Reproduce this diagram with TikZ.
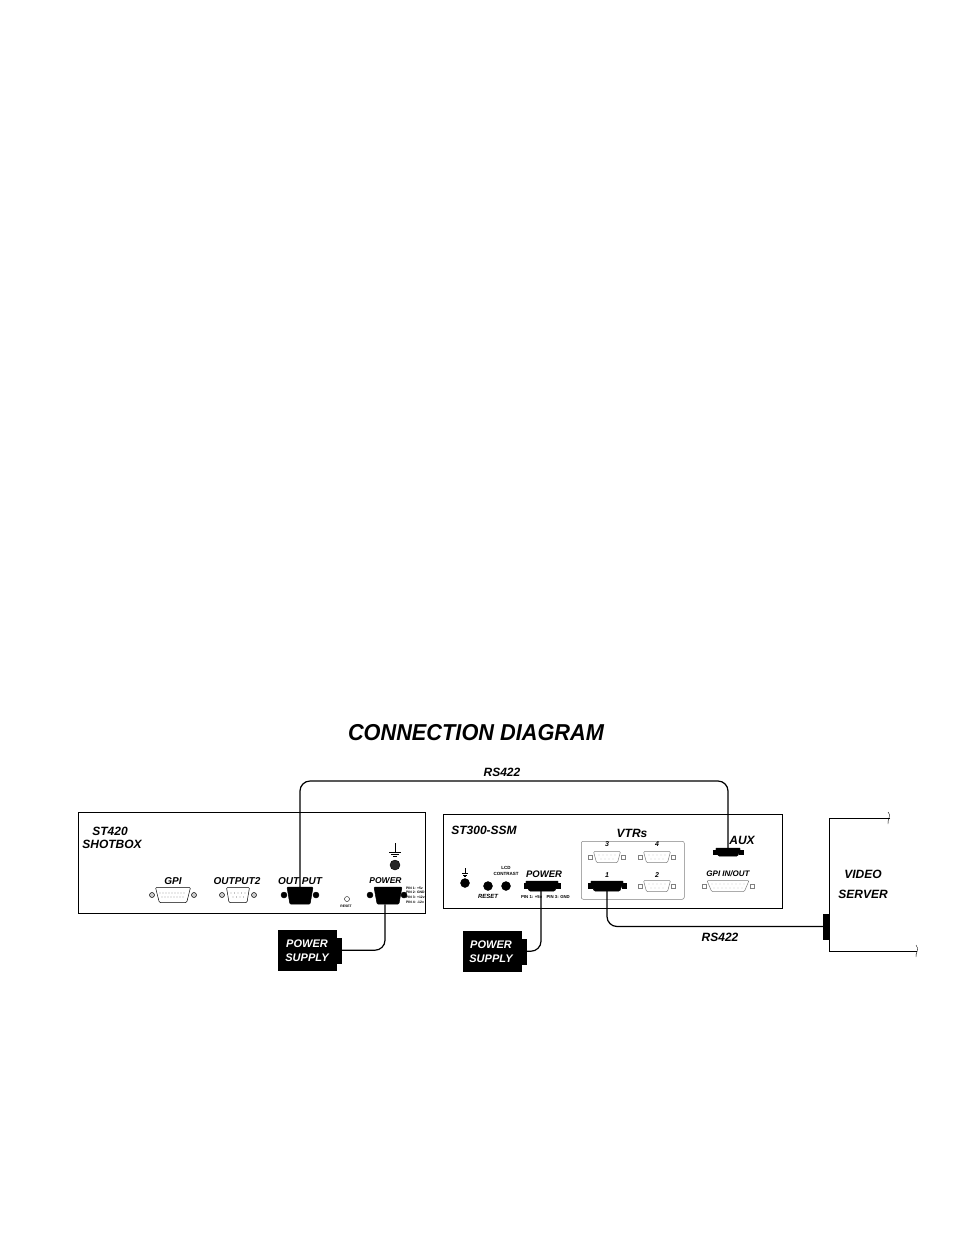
\documentclass[tikz,border=0pt]{standalone}
\usepackage{fontspec}
\setmainfont{Liberation Sans}
\usetikzlibrary{shapes.geometric}
\begin{document}
\begin{tikzpicture}[x=1pt, y=-1pt]

      \tikzset{
        panel/.style={draw, line width=1.2pt, inner sep=0pt, anchor=north west},
        lbl/.style={font=\bfseries\itshape\fontsize{12}{12}\selectfont, inner sep=0pt},
        tinylbl/.style={font=\bfseries\fontsize{3.4}{3.4}\selectfont, inner sep=0pt},
        smalllbl/.style={font=\bfseries\itshape\fontsize{10}{10}\selectfont, inner sep=0pt},
        numlbl/.style={font=\bfseries\itshape\fontsize{7}{7}\selectfont, inner sep=0pt},
        dsub/.style={draw, trapezium, trapezium angle=82, trapezium stretches=true, shape border rotate=180, inner sep=.5pt, line width=.5pt, rounded corners=1pt},
        dsubfill/.style={dsub, fill=black},
        dsubgray/.style={dsub, gray},
        screw/.style={draw, circle, inner sep=0pt, minimum size=5pt, line width=.5pt, fill=gray!40},
        knob/.style={draw, circle, inner sep=0pt, fill=black},
        ear/.style={draw, fill=black, inner sep=0pt, minimum width=4pt, minimum height=5pt},
        eargray/.style={draw, gray, line width=.4pt, inner sep=0pt, minimum size=4pt},
        psu/.style={draw, fill=black, inner sep=0pt, anchor=north west, minimum width=58pt, minimum height=40pt},
        tab/.style={draw, fill=black, inner sep=0pt, anchor=west, minimum width=5pt, minimum height=25pt},
        psulbl/.style={white, align=center, inner sep=0pt, font=\bfseries\itshape\fontsize{11}{14}\selectfont},
        cable/.style={line width=1.2pt, rounded corners=10pt}
      }
      \useasboundingbox (0,0) rectangle (954,1235);
      \fill[white] (0,0) rectangle (954,1235);

%% Title
      	\node[font=\bfseries\itshape\fontsize{23}{23}\selectfont, inner sep=0pt, xscale=.945, transform shape] (title) at (476,733) {CONNECTION DIAGRAM};
      	\node[lbl] (rstop) at (502,772) {RS422};
      	\node[lbl] (rsbot) at (720,937) {RS422};

%% Panels
      	\node[panel, minimum width=347pt, minimum height=101pt] (st420) at (78,812) {};
      	\node[panel, minimum width=339pt, minimum height=94pt] (st300) at (443,814) {};
      	\node[draw, gray, rounded corners=2pt, line width=.5pt, inner sep=0pt, anchor=north west, minimum width=103pt, minimum height=58pt] (vtrbox) at (581,841) {};

%% ST420
      	\node[lbl] (name1) at (110,831) {ST420};
      	\node[lbl] (name2) at (112,844) {SHOTBOX};
      	\node[smalllbl] (gpilbl) at (173,881) {GPI};
      	\node[smalllbl] (out2lbl) at (237,881) {OUTPUT2};
      	\node[smalllbl] (outlbl) at (300,881) {OUT PUT};
      	\node[smalllbl, font=\bfseries\itshape\fontsize{8.5}{8.5}\selectfont] (powlbl1) at (385.5,881) {POWER};

      	\node[dsub, minimum width=35pt, minimum height=15pt] (gpi) at (173,895) {};
      	\node[screw] (gpil) at (152,895) {};
      	\node[screw] (gpir) at (194,895) {};
      	\foreach \x in {160,163,...,186} {\fill (\x,893) circle (.4pt); }
      	\foreach \x in {162,165,...,184} {\fill (\x,897) circle (.4pt); }
      	\node[dsub, minimum width=23pt, minimum height=15pt] (outtwo) at (238,895) {};
      	\node[screw] (outtwol) at (222,895) {};
      	\node[screw] (outtwor) at (254,895) {};
      	\foreach \x in {231,234.5,...,246} {\fill (\x,893) circle (.4pt); }
      	\foreach \x in {233,236.5,...,244} {\fill (\x,897) circle (.4pt); }
      	\node[dsubfill, minimum width=26pt, minimum height=17pt] (output) at (300,895.5) {};
      	\node[knob, minimum size=6pt] (outputl) at (284,895) {};
      	\node[knob, minimum size=6pt] (outputr) at (316,895) {};
      	\node[dsubfill, minimum width=28pt, minimum height=17pt] (power) at (388,895.5) {};
      	\node[knob, minimum size=6pt] (powerl) at (370,895) {};
      	\node[knob, minimum size=6pt] (powerr) at (404,895) {};
      	\node[draw, circle, inner sep=0pt, minimum size=5pt, line width=.4pt] (reset) at (347,899) {};
      	\node[tinylbl] (resetlbl) at (346,906) {RESET};
      	\node[knob, minimum size=10pt, fill=black!85] (earth) at (395,865) {};
      	\draw[line width=.4pt] (395,843) -- (395,852) (389,852) -- (401,852) (391,854) -- (399,854) (393,856) -- (397,856);
      	\node[tinylbl, anchor=west] (pina) at (406,888) {PIN 1: +5v};
      	\node[tinylbl, anchor=west] (pinb) at (406,892.5) {PIN 2: GND};
      	\node[tinylbl, anchor=west] (pinc) at (406,897.5) {PIN 3: +12v};
      	\node[tinylbl, anchor=west] (pind) at (406,902.5) {PIN 4: -12v};

%% ST300-SSM
      	\node[lbl] (name3) at (484,830) {ST300-SSM};
      	\node[knob, minimum size=9pt] (earthb) at (465,883) {};
      	\draw[line width=.4pt] (465,868) -- (465,873.5) (462,873.5) -- (468,873.5) (463,875) -- (467,875) (464,876.5) -- (466,876.5);
      	\node[knob, minimum size=9pt] (resetb) at (488,886) {};
      	\node[knob, minimum size=9pt] (contrast) at (506,886) {};
      	\node[smalllbl, font=\bfseries\itshape\fontsize{6}{6}\selectfont] (resetblbl) at (488,896) {RESET};
      	\node[tinylbl, font=\bfseries\fontsize{4.5}{6.5}\selectfont, align=center] (lcdlbl) at (506,871) {LCD\\CONTRAST};
      	\node[smalllbl, font=\bfseries\itshape\fontsize{9.5}{9.5}\selectfont] (powlbl2) at (544,874) {POWER};
      	\node[dsubfill, minimum width=33pt, minimum height=10pt] (powerb) at (542,886) {};
      	\node[ear] (powerbl) at (526,886) {};
      	\node[ear] (powerbr) at (558,886) {};
      	\node[tinylbl, font=\bfseries\fontsize{4.3}{4.3}\selectfont] (pinlbl) at (545.5,897) {PIN 1: +5v\quad PIN 3: GND};

%% VTRs
      	\node[lbl] (vtrlbl) at (632,833) {VTRs};
      	\node[numlbl] (threelbl) at (607,844) {3};
      	\node[numlbl] (fourlbl) at (657,844) {4};
      	\node[numlbl] (onelbl) at (607,875) {1};
      	\node[numlbl] (twolbl) at (657,875) {2};
      	\foreach \name/\cx/\cy in {vtrc/607/857, vtrd/657/857, vtrb/657/886} {
      	  \node[dsubgray, minimum width=27pt, minimum height=11pt] (\name) at (\cx,\cy) {};
      	  \node[eargray] (\name l) at (\cx-16.5,\cy) {};
      	  \node[eargray] (\name r) at (\cx+16.5,\cy) {};
      	  \foreach \dx in {-8,-4,...,8} {\fill[gray] (\cx+\dx,\cy-2) circle (.4pt); }
      	  \foreach \dx in {-6,-2,...,6} {\fill[gray] (\cx+\dx,\cy+2) circle (.4pt); }
      	}
      	\node[dsubfill, minimum width=33pt, minimum height=10pt] (vtra) at (607,886) {};
      	\node[ear] (vtral) at (590.5,886) {};
      	\node[ear] (vtrar) at (624,886) {};

%% AUX and GPI
      	\node[lbl] (auxlbl) at (742,840) {AUX};
      	\node[dsubfill, minimum width=25pt, minimum height=8pt] (aux) at (728,852) {};
      	\node[ear, minimum height=4pt] (auxl) at (715,852) {};
      	\node[ear, minimum height=4pt] (auxr) at (741,852) {};
      	\node[smalllbl, font=\bfseries\itshape\fontsize{8}{8}\selectfont] (gpiolbl) at (728,874) {GPI IN/OUT};
      	\node[dsubgray, minimum width=42pt, minimum height=11pt] (gpio) at (728,886) {};
      	\node[eargray] (gpiol) at (704,886) {};
      	\node[eargray] (gpior) at (752,886) {};
      	\foreach \x in {712,716,...,744} {\fill[gray] (\x,884) circle (.4pt); }
      	\foreach \x in {714,718,...,742} {\fill[gray] (\x,888) circle (.4pt); }

%% Power supplies
      	\node[psu] (psua) at (278,930) {};
      	\node[tab] (psuatab) at (psua.east) {};
      	\node[psulbl] (psualbl) at (307,951) {POWER\\SUPPLY};
      	\node[psu] (psub) at (463,931) {};
      	\node[tab] (psubtab) at (psub.east) {};
      	\node[psulbl] (psublbl) at (491,952) {POWER\\SUPPLY};

%% Video server
      	\coordinate (srvtop) at (890,818);
      	\coordinate (srvbot) at (917,951);
      	\coordinate (srvcorna) at (829,818);
      	\coordinate (srvcornb) at (829,951);
      	\draw[line width=1pt] (srvtop) -- (srvcorna) -- (srvcornb) -- (srvbot);
      	\draw[line width=.4pt] (888,812) .. controls (892,815) and (887,820) .. (888,824);
      	\draw[line width=.4pt] (916,945) .. controls (920,949) and (915,954) .. (916,957);
      	\node[draw, fill=black, inner sep=0pt, minimum width=6pt, minimum height=25pt] (srvport) at (826,926.5) {};
      	\node[lbl] (videolbl) at (863,874) {VIDEO};
      	\node[lbl] (serverlbl) at (863,894) {SERVER};

%Cables
      	\coordinate (toptl) at (300,781);
      	\coordinate (toptr) at (728,781);
      	\draw[cable] (output.center) -- (toptl) -- (toptr) -- (aux.center);
      	\draw[cable] (vtra.center) |- (srvport.west);
      	\draw[cable] ([xshift=-3pt]power.south) |- (psuatab.east);
      	\draw[cable] ([xshift=-1pt]powerb.center) |- (psubtab.east);

	\end{tikzpicture}
\end{document}
